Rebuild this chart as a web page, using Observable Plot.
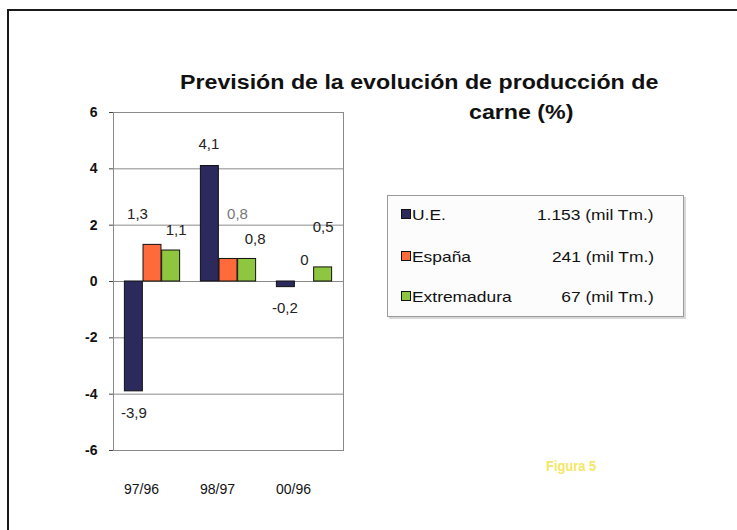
<!DOCTYPE html>
<html>
<head>
<meta charset="utf-8">
<script src="https://cdn.jsdelivr.net/npm/d3@7"></script>
<script src="https://cdn.jsdelivr.net/npm/@observablehq/plot@0.6"></script>
<style>
  body { margin: 0; background: #fff; }
  #wrap { position: relative; width: 737px; height: 530px; overflow: hidden; font-family: "Liberation Sans", Arial, sans-serif; color: #111; }
  #border { position: absolute; left: 7px; top: 9px; width: 740px; height: 530px; border-top: 2px solid #1a1a1a; border-left: 2px solid #1a1a1a; }
  #chart { position: absolute; left: 0; top: 0; }
  .title { position: absolute; font-weight: bold; font-size: 20px; white-space: nowrap; transform: scaleX(1.16); transform-origin: left top; }
  #legend { position: absolute; left: 387px; top: 195px; width: 297px; height: 122px; border: 1px solid #9a9a9a; box-sizing: border-box; background: #fcfcfc; box-shadow: 2px 2px 0 #d8d8d8; }
  .row { position: absolute; left: 13px; width: 253px; height: 18px; font-size: 15px; white-space: nowrap; }
  .row .sw { position: absolute; left: 0; top: 3px; width: 8px; height: 8px; border: 1px solid #111; }
  .row .name { position: absolute; left: 11px; top: 0; transform: scaleX(1.16); transform-origin: left top; }
  .row .val { position: absolute; right: 0; top: 0; transform: scaleX(1.16); transform-origin: right top; }
  #fig { position: absolute; left: 546px; top: 457px; font-weight: bold; font-size: 15px; color: #f3e34a; opacity: 0.85; transform: scaleX(0.86); transform-origin: left top; }
</style>
</head>
<body>
<div id="wrap">
  <div id="border"></div>
  <div id="chart"></div>
  <div class="title" style="left:180px; top:71px;">Previsión de la evolución de producción de</div>
  <div class="title" style="left:469px; top:101px;">carne (%)</div>
  <div id="legend"></div>
  <div id="fig">Figura 5</div>
</div>
<script>
// ---- Data ----
const categories = ["97/96", "98/97", "00/96"];
const seriesNames = ["U.E.", "España", "Extremadura"];
const seriesTotals = ["1.153 (mil Tm.)", "241 (mil Tm.)", "67 (mil Tm.)"];
const ueValues = [-3.9, 4.1, -0.2];
const espanaValues = [1.3, 0.8, 0];
const extremaduraValues = [1.1, 0.8, 0.5];
const yTicks = [-6, -4, -2, 0, 2, 4, 6];
const seriesColors = ["#2c295c", "#ff6a3b", "#8fc640"];

const seriesValues = [ueValues, espanaValues, extremaduraValues];
const rows = seriesValues.map((vals, i) =>
  categories.map((cat, j) => ({ cat, series: seriesNames[i], value: vals[j], si: i, ci: j }))
);

// ---- Layout (styling only) ----
const W = 737, H = 530;
const mL = 113, mR = W - 343, mT = 112, mB = H - 450;
const bw = (W - mL - mR) / categories.length;   // band width
const barW = bw * 0.243;                          // each bar
const off = (bw - 3 * barW) / 2;
// pixel nudges of the value labels, as placed in the original (series x category): [dx, dy]
const labelNudge = [
  [[0, 22], [-1, -22], [-1, 21]],
  [[-15, -31], [9, -45], [0, -21]],
  [[5, -20], [8, -20], [0, -40]]
];
const fmt = v => String(v).replace(".", ",");

const marks = [
  Plot.gridY(yTicks, { stroke: "#8a8a8a", strokeOpacity: 1 }),
  Plot.frame({ stroke: "#8a8a8a" })
];
rows.forEach((data, i) => {
  marks.push(Plot.barY(data, {
    x: "cat", y: "value", fill: seriesColors[i], stroke: "#111", strokeWidth: 1,
    insetLeft: off + i * barW, insetRight: bw - off - (i + 1) * barW
  }));
});
rows.forEach((data, i) => {
  data.forEach(d => {
    const [ndx, ndy] = labelNudge[d.si][d.ci];
    marks.push(Plot.text([d], {
      x: "cat", y: "value", text: v => fmt(v.value),
      dx: (i - 1) * barW + ndx, dy: ndy, fontSize: 15,
      fill: (d.si === 1 && d.ci === 1) ? "#777" : "#222"
    }));
  });
});
marks.push(Plot.axisY({ ticks: yTicks, tickFormat: d => String(d), tickSize: 4, tickPadding: 12, fontSize: 14, fontWeight: "bold", label: null, stroke: "#444" }));
marks.push(Plot.axisX({ tickSize: 0, tickPadding: 34, fontSize: 14, dx: -11, label: null }));

const chart = Plot.plot({
  width: W, height: H,
  marginLeft: mL, marginRight: mR, marginTop: mT, marginBottom: mB,
  style: { fontFamily: "'Liberation Sans', Arial, sans-serif", color: "#111", background: "transparent" },
  x: { domain: categories, padding: 0 },
  y: { domain: [-6, 6] },
  marks
});
document.getElementById("chart").appendChild(chart);

// ---- Legend ----
const legend = document.getElementById("legend");
const rowTops = [10, 52, 92];
seriesNames.forEach((name, i) => {
  const r = document.createElement("div");
  r.className = "row";
  r.style.top = rowTops[i] + "px";
  const sw = document.createElement("span"); sw.className = "sw"; sw.style.background = seriesColors[i];
  const nm = document.createElement("span"); nm.className = "name"; nm.textContent = name;
  const vl = document.createElement("span"); vl.className = "val"; vl.textContent = seriesTotals[i];
  r.append(sw, nm, vl);
  legend.appendChild(r);
});
</script>
</body>
</html>
